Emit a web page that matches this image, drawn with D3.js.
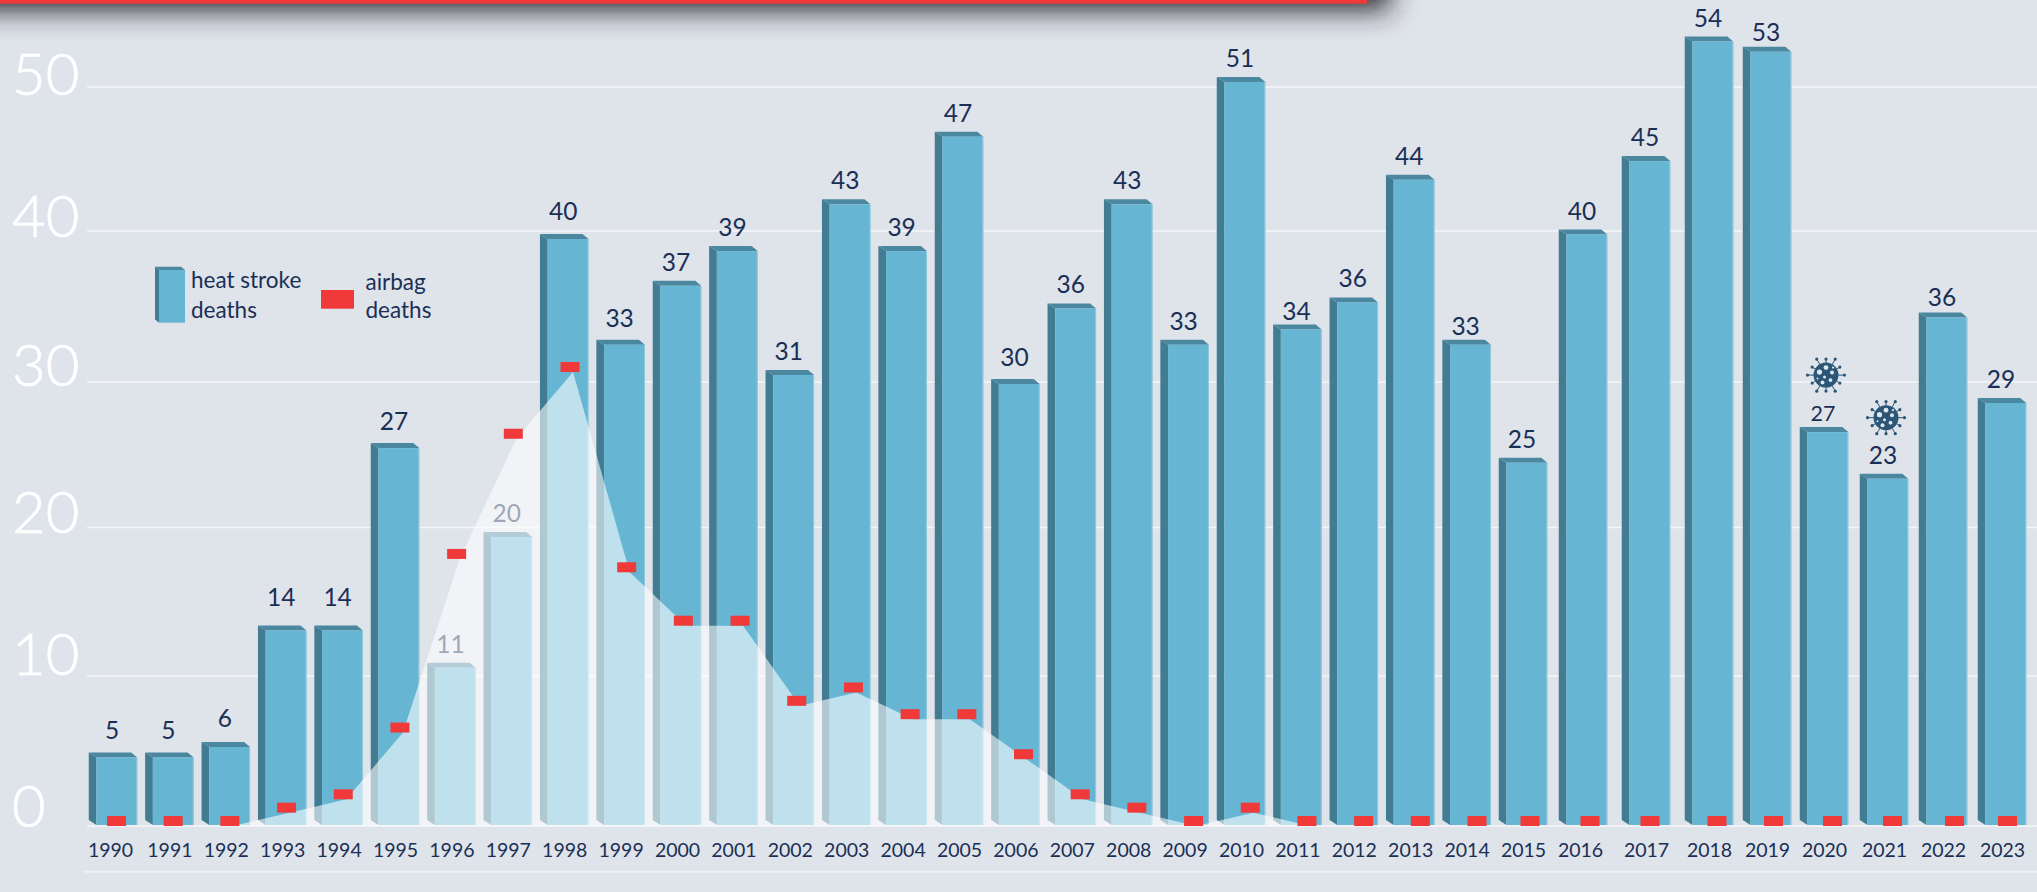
<!DOCTYPE html>
<html>
<head>
<meta charset="utf-8">
<script src="https://cdn.jsdelivr.net/npm/d3@7"></script>
<style>
    html, body { margin: 0; padding: 0; background: #dfe3ea; overflow: hidden; }
    text { font-family: Lato, "Open Sans", sans-serif; }
</style>
</head>
<body>
<div id="chart"></div>
<script>
const years = d3.range(1990, 2024);

// numbers printed over the bars
const heatLabels = [5, 5, 6, 14, 14, 27, 11, 20, 40, 33, 37, 39, 31, 43, 39, 47, 30, 36, 43, 33, 51, 34, 36, 44, 33, 25, 40, 45, 54, 53, 27, 23, 36, 29];

// bar heights as drawn, they do not always agree with the printed number
const heatDrawn = [4.9, 4.9, 5.6, 13.4, 13.4, 25.8, 10.9, 19.7, 39.8, 32.8, 36.7, 39, 30.8, 42.2, 39, 46.9, 30.2, 35.2, 42.2, 32.8, 50.7, 33.8, 35.6, 43.9, 32.8, 24.8, 40.1, 45.2, 53.5, 52.8, 26.9, 23.7, 34.6, 28.9];

const airbagDeaths = [0, 0, 0, 1, 2, 7, 20, 29, 34, 19, 15, 15, 9, 10, 8, 8, 5, 2, 1, 0, 1, 0, 0, 0, 0, 0, 0, 0, 0, 0, 0, 0, 0, 0];

const yTicks = [0, 10, 20, 30, 40, 50];
const covidYears = [2020, 2021];

const width = 2037;
const height = 892;

const svg = d3.select('#chart')
    .append('svg')
    .attr('width', width)
    .attr('height', height)
    .style('display', 'block');

const defs = svg.append('defs');

/* The source graphic is hand placed, so the scales are piecewise */
const yScale = d3.scaleLinear()
    .domain(yTicks)
    .range([826, 676, 527.5, 382, 231, 87]);

const yLabelScale = d3.scaleLinear()
    .domain(yTicks)
    .range([827, 675, 533, 386, 237, 95]);

const airbagScale = d3.scaleLinear()
    .domain([0, 34])
    .range([826, 372]);

const xScale = d3.scaleLinear()
    .domain([1990, 2015, 2016, 2017, 2018, 2019, 2020, 2021, 2022, 2023])
    .range([113, 1523, 1583, 1646, 1709, 1767, 1824, 1884, 1943, 2002]);

const markerScale = d3.scaleLinear()
    .domain([1990, 2014, 2015, 2016, 2017, 2018, 2019, 2020, 2021, 2022, 2023])
    .range([116.5, 1477, 1530, 1590, 1650, 1717, 1773.5, 1832.5, 1892.5, 1954.5, 2007.5]);

const barWidth = 48.5;
const sideDepth = 7.7;
const topDepth = 5;

// a few printed numbers sit off the usual gap above their bar
const labelNudge = { 1990: -4, 1991: -4, 1992: -5, 1993: -10, 1994: -10, 1995: -3, 1998: -4, 1999: -3, 2006: -3, 2011: 5, 2014: 5, 2019: 4, 2020: 4, 2022: 3 };
const virusGap = { 2020: 52, 2021: 56 };

const frontColor = '#66b5d3';
const edgeColor = '#93c9de';
const sideColor = '#427c92';
const topColor = '#4b879f';
const textColor = '#1a2f55';
const virusColor = '#2b5676';
const red = '#f03a3a';

/* Shadow of the banner */
defs.append('filter')
    .attr('id', 'bannerBlur')
    .attr('x', '-10%').attr('y', '-300%')
    .attr('width', '120%').attr('height', '800%')
    .append('feGaussianBlur')
    .attr('stdDeviation', 14);

svg.append('rect')
    .attr('x', -60)
    .attr('y', -50)
    .attr('width', 1450)
    .attr('height', 60)
    .attr('fill', '#26262c')
    .attr('filter', 'url(#bannerBlur)');

svg.append('rect')
    .attr('x', 0)
    .attr('y', 0)
    .attr('width', 1367)
    .attr('height', 3.7)
    .attr('fill', red);

/* Gridlines */
svg.append('g')
    .selectAll('line')
    .data(yTicks)
    .join('line')
    .attr('x1', 87)
    .attr('x2', width)
    .attr('y1', d => yScale(d))
    .attr('y2', d => yScale(d))
    .attr('stroke', '#f4f6f8')
    .attr('stroke-width', 1.6);

svg.append('line')
    .attr('x1', 84)
    .attr('x2', width)
    .attr('y1', 871.7)
    .attr('y2', 871.7)
    .attr('stroke', '#eef0f4')
    .attr('stroke-width', 2);

/* y labels */
svg.append('g')
    .selectAll('text')
    .data(yTicks)
    .join('text')
    .attr('x', 12)
    .attr('y', d => yLabelScale(d))
    .attr('fill', '#ffffff')
    .attr('stroke', '#ffffff')
    .attr('stroke-width', 0.7)
    .attr('font-size', 58)
    .attr('font-weight', 300)
    .text(d => d);

/* x axis */
const xAxis = d3.axisBottom(xScale)
    .tickValues(years)
    .tickFormat(d3.format('d'))
    .tickSize(0)
    .tickPadding(0);

const xAxisG = svg.append('g')
    .attr('transform', 'translate(0,838)')
    .call(xAxis);
xAxisG.select('.domain').remove();
xAxisG.selectAll('text')
    .attr('font-size', 19.5)
    .attr('font-family', 'Lato')
    .attr('fill', textColor)
    .attr('x', d => (d === 1990 || d === 2016) ? -3 : 0)
    .attr('dy', '0.95em');

/* Bars */
const bars = svg.append('g')
    .selectAll('g')
    .data(years.map((year, i) => ({ year, drawn: heatDrawn[i], label: heatLabels[i], airbag: airbagDeaths[i] })))
    .join('g');

const barLeft = d => xScale(d.year) - barWidth / 2;
const barRight = d => xScale(d.year) + barWidth / 2;
const baseY = yScale(0) - 1;

bars.append('path')
    .attr('fill', sideColor)
    .attr('d', d => {
        const l = barLeft(d), t = yScale(d.drawn);
        return `M${l},${t}L${l + sideDepth},${t + topDepth}L${l + sideDepth},${baseY}L${l},${baseY - topDepth}Z`;
    });

bars.append('path')
    .attr('fill', topColor)
    .attr('d', d => {
        const l = barLeft(d), r = barRight(d), t = yScale(d.drawn);
        return `M${l},${t}L${r - 6},${t}L${r},${t + topDepth}L${l + sideDepth},${t + topDepth}Z`;
    });

bars.append('rect')
    .attr('x', d => barLeft(d) + sideDepth)
    .attr('y', d => yScale(d.drawn) + topDepth)
    .attr('width', barWidth - sideDepth)
    .attr('height', d => baseY - yScale(d.drawn) - topDepth)
    .attr('fill', frontColor);

bars.append('rect')
    .attr('x', d => barRight(d) - 1)
    .attr('y', d => yScale(d.drawn) + topDepth)
    .attr('width', 1)
    .attr('height', d => baseY - yScale(d.drawn) - topDepth)
    .attr('fill', edgeColor);

bars.append('text')
    .attr('x', d => xScale(d.year) - 1)
    .attr('y', d => yScale(d.drawn) - 10 + (labelNudge[d.year] || 0))
    .attr('text-anchor', 'middle')
    .attr('font-size', d => d.year === 2020 ? 21.5 : 24.5)
    .attr('fill', textColor)
    .text(d => d.label);

/* Covid icons */
const virusSpikes = d3.range(0, 360, 30);
const virusSpots = [[-6.5, -3, 2.6], [0, -7.5, 2.4], [6, -2.5, 2], [-1.5, 2, 1.5], [4.5, 5, 1.9], [-3.5, 7.5, 2], [7, -7.5, 1.1], [-8.5, 3.5, 1]];

const virusG = svg.append('g')
    .selectAll('g')
    .data(covidYears)
    .join('g')
    .attr('transform', d => {
        const i = years.indexOf(d);
        return `translate(${xScale(d) + 2},${yScale(heatDrawn[i]) - virusGap[d]})`;
    });

virusG.append('circle')
    .attr('r', 12.5)
    .attr('fill', virusColor);

virusG.each(function () {
    const g = d3.select(this);
    virusSpikes.forEach((a, k) => {
        const rad = a * Math.PI / 180;
        const r = k % 2 === 0 ? 18.5 : 16;
        g.append('line')
            .attr('x1', Math.cos(rad) * 12)
            .attr('y1', Math.sin(rad) * 12)
            .attr('x2', Math.cos(rad) * r)
            .attr('y2', Math.sin(rad) * r)
            .attr('stroke', virusColor)
            .attr('stroke-width', 1);
        g.append('circle')
            .attr('cx', Math.cos(rad) * r)
            .attr('cy', Math.sin(rad) * r)
            .attr('r', 1.6)
            .attr('fill', virusColor);
    });
    g.selectAll('circle.spot')
        .data(virusSpots)
        .join('circle')
        .attr('class', 'spot')
        .attr('cx', d => d[0])
        .attr('cy', d => d[1])
        .attr('r', d => d[2])
        .attr('fill', '#dfe6ee');
});

/* Airbag area goes over the bars and their numbers */
const area = d3.area()
    .x((d, i) => markerScale(years[i]) + 3)
    .y0(yScale(0))
    .y1(d => airbagScale(d));

svg.append('path')
    .datum(airbagDeaths)
    .attr('d', area)
    .attr('fill', '#ffffff')
    .attr('opacity', 0.58);

svg.append('g')
    .selectAll('rect')
    .data(airbagDeaths)
    .join('rect')
    .attr('x', (d, i) => markerScale(years[i]) - 9.5)
    .attr('y', d => airbagScale(d) - 10)
    .attr('width', 19)
    .attr('height', 10)
    .attr('fill', red);

/* Legend */
const legend = svg.append('g');

legend.append('path')
    .attr('d', 'M155,266.7L181,266.7L185,270L159,270Z')
    .attr('fill', topColor);
legend.append('path')
    .attr('d', 'M155,266.7L159,270L159,322.7L155,319.5Z')
    .attr('fill', sideColor);
legend.append('rect')
    .attr('x', 159)
    .attr('y', 270)
    .attr('width', 26)
    .attr('height', 52.7)
    .attr('fill', frontColor);
legend.append('rect')
    .attr('x', 321)
    .attr('y', 290)
    .attr('width', 33)
    .attr('height', 18.7)
    .attr('fill', red);

const legendText = [
    { x: 191, y: 288.3, t: 'heat stroke' },
    { x: 191, y: 317.7, t: 'deaths' },
    { x: 365.5, y: 290, t: 'airbag' },
    { x: 365.5, y: 318, t: 'deaths' }
];
legend.selectAll('text')
    .data(legendText)
    .join('text')
    .attr('x', d => d.x)
    .attr('y', d => d.y)
    .attr('font-size', 22.5)
    .attr('fill', textColor)
    .text(d => d.t);
</script>
</body>
</html>
